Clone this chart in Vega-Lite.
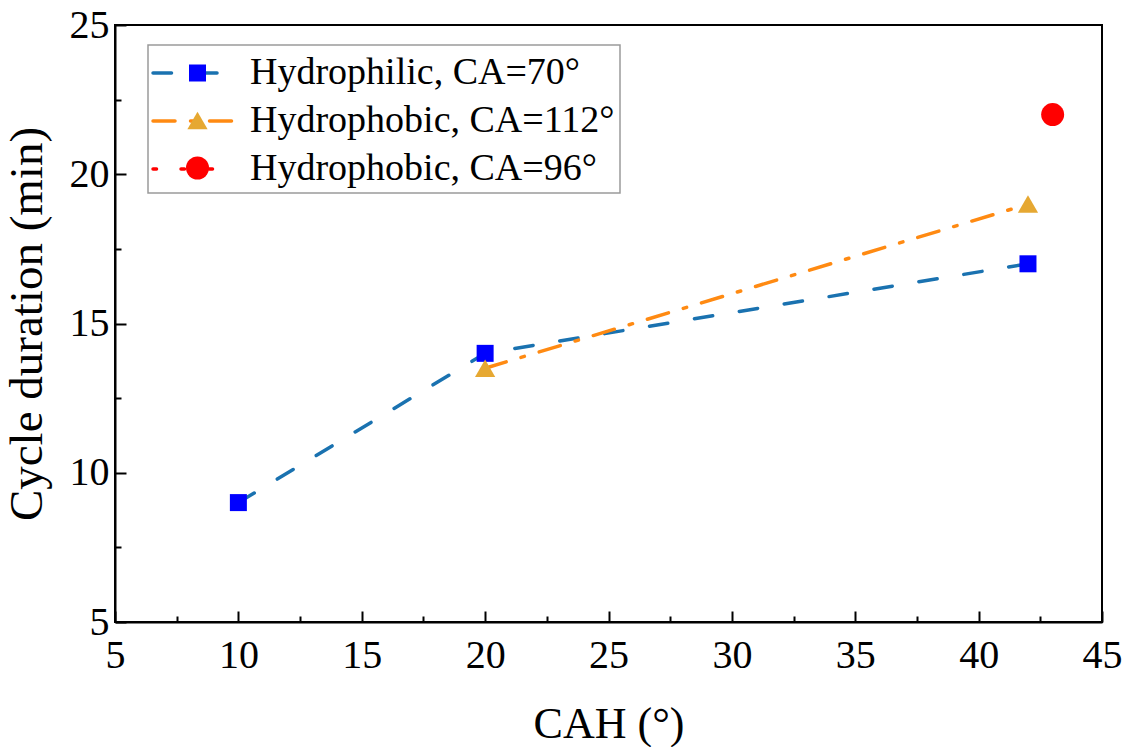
{
  "$schema": "https://vega.github.io/schema/vega-lite/v6.json",
  "width": 987,
  "height": 597,
  "autosize": {"type": "none"},
  "padding": {"left": 115, "top": 25, "right": 31, "bottom": 125},
  "background": "white",
  "config": {
    "view": {"stroke": "black", "strokeWidth": 2},
    "font": "Liberation Serif",
    "axis": {
      "grid": false,
      "domainColor": "black",
      "domainWidth": 2,
      "tickColor": "black",
      "tickWidth": 2,
      "labelFont": "Liberation Serif",
      "labelFontSize": 40,
      "labelColor": "black",
      "titleFont": "Liberation Serif",
      "titleFontSize": 44,
      "titleFontWeight": "normal",
      "titleColor": "black",
      "labelFlush": false,
      "labelOverlap": false,
      "labelBound": false
    }
  },
  "data": {
    "values": [
      {"cah": 10, "dur": 9, "series": "Hydrophilic, CA=70°"},
      {"cah": 20, "dur": 14, "series": "Hydrophilic, CA=70°"},
      {"cah": 42, "dur": 17, "series": "Hydrophilic, CA=70°"},
      {"cah": 20, "dur": 13.5, "series": "Hydrophobic, CA=112°"},
      {"cah": 42, "dur": 19, "series": "Hydrophobic, CA=112°"},
      {"cah": 43, "dur": 22, "series": "Hydrophobic, CA=96°"}
    ]
  },
  "layer": [
    {
      "mark": {"type": "line", "strokeWidth": 3.5, "strokeCap": "round"},
      "encoding": {
        "x": {
          "field": "cah", "type": "quantitative",
          "scale": {"domain": [5, 45], "nice": false, "zero": false},
          "axis": {"orient": "bottom", "values": [7.5, 12.5, 17.5, 22.5, 27.5, 32.5, 37.5, 42.5], "tickSize": -6, "labels": false, "domain": false, "title": null}
        },
        "y": {
          "field": "dur", "type": "quantitative",
          "scale": {"domain": [5, 25], "nice": false, "zero": false},
          "axis": {"orient": "left", "values": [7.5, 12.5, 17.5, 22.5], "tickSize": -6, "labels": false, "domain": false, "title": null}
        },
        "stroke": {
          "field": "series", "type": "nominal",
          "scale": {"domain": ["Hydrophilic, CA=70°", "Hydrophobic, CA=112°", "Hydrophobic, CA=96°"], "range": ["#1a72b0", "#ff8a12", "#ff0000"]},
          "legend": {
            "title": null, "orient": "none", "legendX": 33, "legendY": 20,
            "padding": 5, "rowPadding": 6,
            "symbolType": "M-2.07,0H1.835", "symbolSize": 1806, "symbolStrokeWidth": 3.5,
            "symbolFillColor": "transparent", "symbolOffset": 21,
            "labelOffset": 30, "labelFontSize": 38, "labelFont": "Liberation Serif", "labelColor": "black", "labelLimit": 1000,
            "strokeColor": "#9a9a9a", "fillColor": "white", "zindex": 1,
            "encode": {
              "symbols": {"update": {"strokeCap": {"value": "round"}}},
              "legend": {"update": {"strokeWidth": {"value": 1.5}}}
            }
          }
        },
        "strokeDash": {
          "field": "series", "type": "nominal",
          "scale": {"domain": ["Hydrophilic, CA=70°", "Hydrophobic, CA=112°", "Hydrophobic, CA=96°"], "range": [[18.5, 27], [22, 15.5, 3.5, 15.5], [3.5, 24.5]]}
        }
      }
    },
    {
      "mark": {"type": "point", "filled": true, "opacity": 1, "strokeWidth": 0},
      "encoding": {
        "x": {
          "field": "cah", "type": "quantitative",
          "scale": {"domain": [5, 45], "nice": false, "zero": false},
          "axis": {"orient": "bottom", "values": [5, 10, 15, 20, 25, 30, 35, 40, 45], "tickSize": -11, "labelPadding": 24, "title": "CAH (°)", "titlePadding": 27}
        },
        "y": {
          "field": "dur", "type": "quantitative",
          "scale": {"domain": [5, 25], "nice": false, "zero": false},
          "axis": {"orient": "left", "values": [5, 10, 15, 20, 25], "tickSize": -11, "labelPadding": 17, "title": "Cycle duration (min)", "titleFontSize": 47, "titlePadding": 18}
        },
        "fill": {
          "field": "series", "type": "nominal",
          "scale": {"range": ["#0000ff", "#e6a832", "#ff0000"]},
          "legend": {
            "title": null, "orient": "none", "legendX": 33, "legendY": 20,
            "padding": 5, "rowPadding": 1.5,
            "labelFontSize": 46, "labelExpr": "' '", "labelOpacity": 0, "labelLimit": 1000,
            "symbolOffset": 21.5, "symbolStrokeWidth": 0, "symbolOpacity": 1, "zindex": 2
          }
        },
        "shape": {
          "field": "series", "type": "nominal",
          "scale": {"range": ["square", "triangle-up", "circle"]}
        },
        "size": {
          "field": "series", "type": "nominal",
          "scale": {"range": [289, 529, 400]}
        }
      }
    }
  ],
  "resolve": {"axis": {"x": "independent", "y": "independent"}}
}
